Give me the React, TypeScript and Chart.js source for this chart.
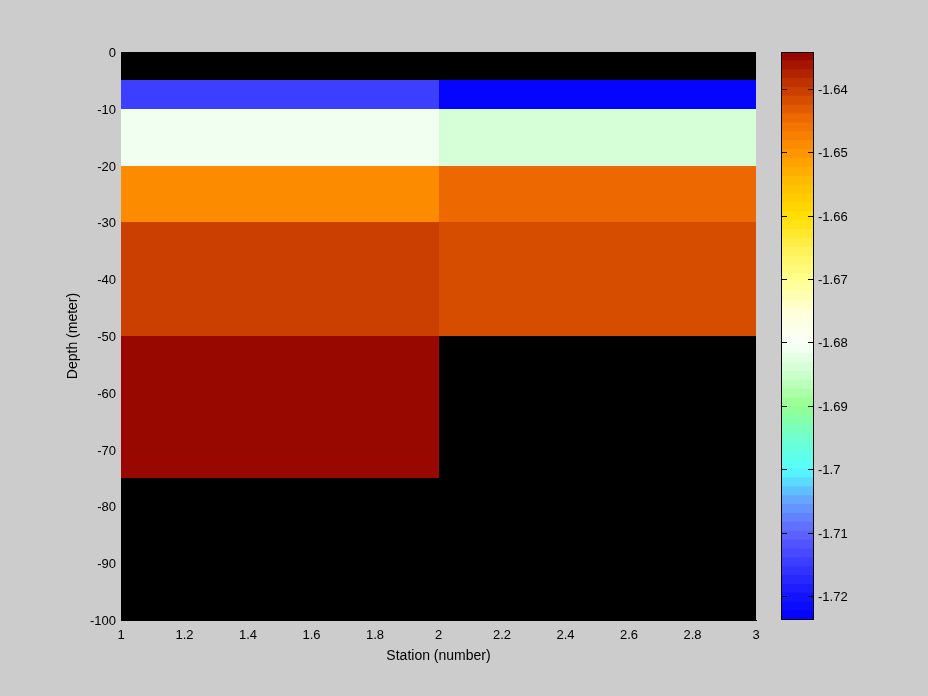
import React, { useEffect, useRef } from 'react';
import { Chart, registerables } from 'chart.js';

Chart.register(...registerables);

// ---- data ----
const stationEdges = [1, 2, 3];
const depthEdges = [0, -5, -10, -20, -30, -50, -75, -100];
const station1Values: (number | null)[] = [null, -1.7148, -1.6815, -1.6485, -1.6405, -1.6345, null];
const station2Values: (number | null)[] = [null, -1.7238, -1.6840, -1.6450, -1.6420, null, null];
const xTickValues = [1, 1.2, 1.4, 1.6, 1.8, 2, 2.2, 2.4, 2.6, 2.8, 3];
const yTickValues = [0, -10, -20, -30, -40, -50, -60, -70, -80, -90, -100];
const colorTickValues = [-1.72, -1.71, -1.7, -1.69, -1.68, -1.67, -1.66, -1.65, -1.64];
const colorMin = -1.7238;
const colorMax = -1.6342;

// ---- style ----
const FONT = 'Liberation Sans, Arial, Helvetica, sans-serif';
const BG = '#cccccc';
const N_LEVELS = 64;
const colorStops: [number, number, number, number][] = [
  [0.0, 0, 0, 255],
  [0.042, 20, 20, 255],
  [0.154, 96, 100, 255],
  [0.21, 100, 165, 255],
  [0.265, 85, 255, 255],
  [0.32, 112, 255, 205],
  [0.376, 150, 255, 145],
  [0.432, 205, 255, 205],
  [0.487, 248, 255, 248],
  [0.543, 255, 255, 215],
  [0.6, 255, 255, 140],
  [0.656, 255, 240, 80],
  [0.711, 255, 222, 0],
  [0.767, 255, 190, 0],
  [0.823, 255, 148, 0],
  [0.879, 240, 108, 0],
  [0.934, 200, 60, 0],
  [1.0, 145, 0, 0],
];

function interpColor(f: number): string {
  for (let i = 0; i < colorStops.length - 1; i++) {
    const a = colorStops[i], b = colorStops[i + 1];
    if (f >= a[0] && f <= b[0]) {
      const t = (f - a[0]) / (b[0] - a[0]);
      const r = Math.round(a[1] + (b[1] - a[1]) * t);
      const g = Math.round(a[2] + (b[2] - a[2]) * t);
      const bl = Math.round(a[3] + (b[3] - a[3]) * t);
      return `rgb(${r},${g},${bl})`;
    }
  }
  const l = colorStops[colorStops.length - 1];
  return `rgb(${l[1]},${l[2]},${l[3]})`;
}

const colormap: string[] = [];
for (let i = 0; i < N_LEVELS; i++) colormap.push(interpColor((i + 0.5) / N_LEVELS));

function colorFor(v: number): string {
  let idx = Math.floor(((v - colorMin) / (colorMax - colorMin)) * N_LEVELS);
  idx = Math.max(0, Math.min(N_LEVELS - 1, idx));
  return colormap[idx];
}

const fmt = (v: number) => String(Number(Number(v).toFixed(4)));

const cellsPlugin = {
  id: 'cells',
  beforeDatasetsDraw(chart: any) {
    const { ctx, chartArea, scales } = chart;
    const { left, top, right, bottom } = chartArea;
    const x = scales.x, y = scales.y;
    ctx.save();
    ctx.fillStyle = '#000';
    ctx.fillRect(left, top, right - left, bottom - top);
    [station1Values, station2Values].forEach((col, c) => {
      const x0 = Math.round(x.getPixelForValue(stationEdges[c]));
      const x1 = Math.round(x.getPixelForValue(stationEdges[c + 1]));
      col.forEach((v, r) => {
        if (v == null) return;
        const y0 = Math.round(y.getPixelForValue(depthEdges[r]));
        const y1 = Math.round(y.getPixelForValue(depthEdges[r + 1]));
        ctx.fillStyle = colorFor(v);
        ctx.fillRect(Math.min(x0, x1), Math.min(y0, y1), Math.abs(x1 - x0), Math.abs(y1 - y0));
      });
    });
    ctx.restore();
  },
};

const colorbarPlugin = {
  id: 'cbframe',
  afterDatasetsDraw(chart: any) {
    const { ctx, chartArea, scales } = chart;
    const { left, top, right, bottom } = chartArea;
    ctx.save();
    ctx.strokeStyle = '#000';
    ctx.lineWidth = 1;
    colorTickValues.forEach((v) => {
      const yy = Math.round(scales.y.getPixelForValue(v)) + 0.5;
      ctx.beginPath();
      ctx.moveTo(left, yy);
      ctx.lineTo(left + 6, yy);
      ctx.moveTo(right - 6, yy);
      ctx.lineTo(right, yy);
      ctx.stroke();
    });
    ctx.strokeRect(left + 0.5, top + 0.5, right - left - 1, bottom - top - 1);
    ctx.restore();
  },
};

export default function App() {
  const mainRef = useRef<HTMLCanvasElement>(null);
  const cbRef = useRef<HTMLCanvasElement>(null);

  useEffect(() => {
    document.body.style.margin = '0';
    document.body.style.background = BG;
    const font = { family: FONT, size: 13 };
    const titleFont = { family: FONT, size: 14 };

    const main = new Chart(mainRef.current!, {
      type: 'scatter',
      data: { datasets: [] },
      plugins: [cellsPlugin],
      options: {
        responsive: false,
        animation: false,
        events: [],
        layout: { padding: { left: 61, right: 172, top: 52, bottom: 26 } },
        plugins: { legend: { display: false }, tooltip: { enabled: false } },
        scales: {
          x: {
            type: 'linear',
            min: 1,
            max: 3,
            afterBuildTicks: (s: any) => { s.ticks = xTickValues.map((v) => ({ value: v })); },
            afterFit: (s: any) => { s.height = 50; },
            ticks: { callback: (v: any) => fmt(v), color: '#000', font, padding: 8, maxRotation: 0, autoSkip: false },
            grid: { display: false, drawTicks: false },
            border: { display: true, color: '#000' },
            title: { display: true, text: 'Station (number)', color: '#000', font: titleFont, padding: { top: 0, bottom: 5 } },
          },
          y: {
            type: 'linear',
            min: -100,
            max: 0,
            afterBuildTicks: (s: any) => { s.ticks = yTickValues.map((v) => ({ value: v })); },
            afterFit: (s: any) => { s.width = 60; },
            ticks: { callback: (v: any) => fmt(v), color: '#000', font, padding: 5, autoSkip: false, labelOffset: 1.5 },
            grid: { display: false, drawTicks: false },
            border: { display: true, color: '#000' },
            title: { display: true, text: 'Depth (meter)', color: '#000', font: titleFont, padding: { top: 4, bottom: 0 } },
          },
        },
      } as any,
    });

    const step = (colorMax - colorMin) / N_LEVELS;
    const cb = new Chart(cbRef.current!, {
      type: 'bar',
      data: {
        labels: ['c'],
        datasets: colormap.map((c, i) => ({
          data: [[colorMin + i * step, colorMin + (i + 1) * step + step * 0.02]],
          backgroundColor: c,
          borderWidth: 0,
          grouped: false,
          barPercentage: 1,
          categoryPercentage: 1,
        })),
      },
      plugins: [colorbarPlugin],
      options: {
        responsive: false,
        animation: false,
        events: [],
        layout: { padding: { left: 21, right: 0, top: 52, bottom: 76 } },
        plugins: { legend: { display: false }, tooltip: { enabled: false } },
        scales: {
          x: { display: false },
          y: {
            type: 'linear',
            position: 'right',
            min: colorMin,
            max: colorMax,
            afterBuildTicks: (s: any) => { s.ticks = colorTickValues.map((v) => ({ value: v })); },
            afterFit: (s: any) => { s.width = 114; },
            ticks: { callback: (v: any) => fmt(v), color: '#000', font, padding: 4, autoSkip: false, labelOffset: 1.5 },
            grid: { display: false, drawTicks: false },
            border: { display: false },
          },
        },
      } as any,
    });

    return () => {
      main.destroy();
      cb.destroy();
    };
  }, []);

  return (
    <div style={{ position: 'relative', width: 928, height: 696, background: BG, overflow: 'hidden' }}>
      <canvas ref={mainRef} width={928} height={696} style={{ position: 'absolute', left: 0, top: 0 }} />
      <canvas ref={cbRef} width={168} height={696} style={{ position: 'absolute', left: 760, top: 0 }} />
    </div>
  );
}
